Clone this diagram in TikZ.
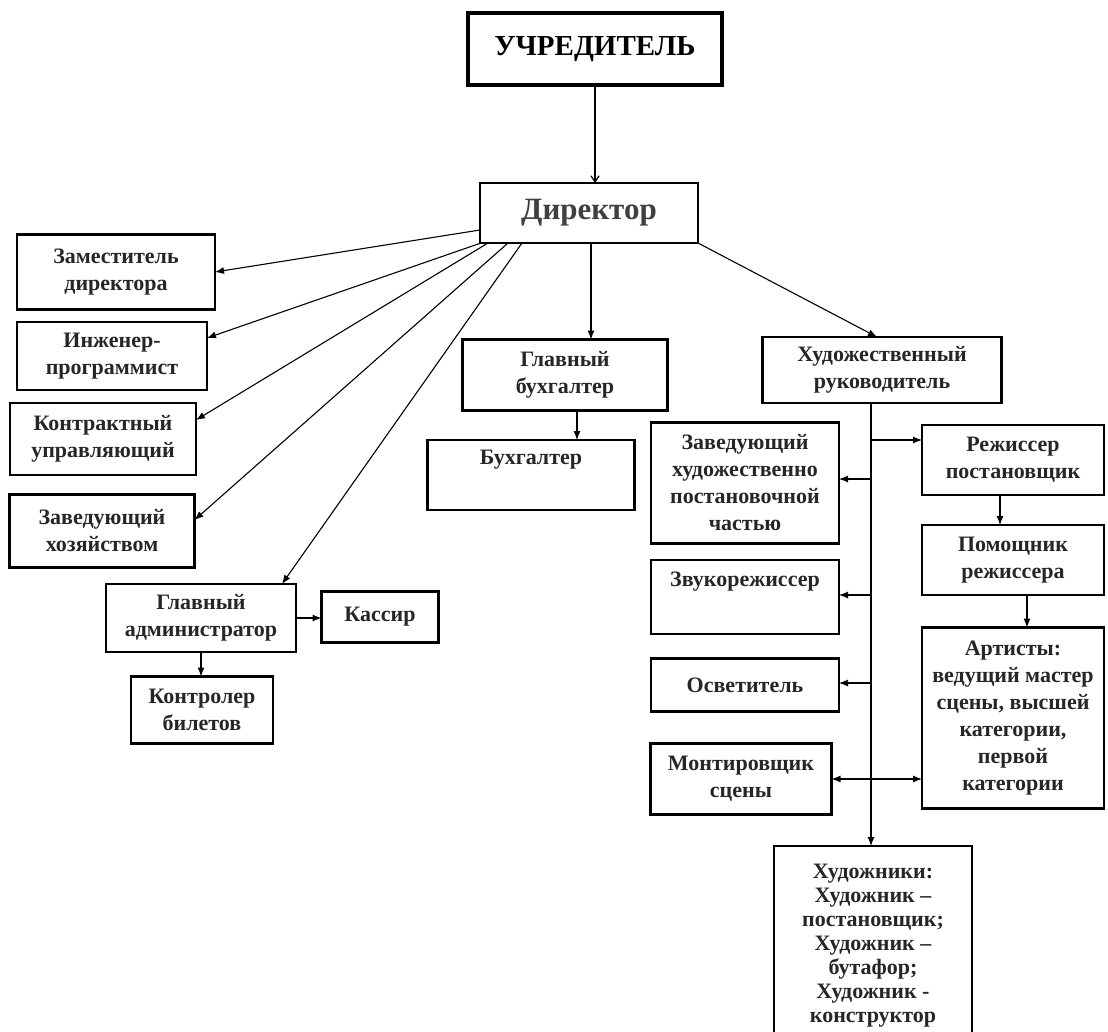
\documentclass[tikz,border=0pt]{standalone}
\usepackage{fontspec}
\setmainfont{Liberation Serif}
\usetikzlibrary{arrows.meta}

\begin{document}
\begin{tikzpicture}[x=1pt,y=-1pt]
        % Define styles
        \tikzset{
            unit/.style={rectangle, draw, line width=2.8pt, inner sep=0pt, outer sep=0pt, align=center, text=black!85, font=\fontsize{22}{27}\selectfont\bfseries},
            founder/.style={unit, line width=4.5pt, text=black, font=\fontsize{29}{34}\selectfont\bfseries},
            head/.style={unit, font=\fontsize{31}{36}\selectfont\bfseries, text=black!75},
            arrow/.style={-{Latex[length=9pt,width=7pt]}, line width=1.1pt},
            barb/.style={-{Straight Barb[length=6pt,width=8pt]}, line width=1.3pt},
            both/.style={{Latex[length=9pt,width=7pt]}-{Latex[length=9pt,width=7pt]}, line width=1.1pt}
        }
        \useasboundingbox (0,0) rectangle (1108,1031);
        \clip (0,0) rectangle (1108,1031);

        % Nodes
        \node[founder, minimum width=254pt, minimum height=72pt] (founder_node) at (595,49) {УЧРЕДИТЕЛЬ};
        \node[head, minimum width=218pt, minimum height=60pt] (director_node) at (589,213) {Директор};

        \node[unit, minimum width=198pt, minimum height=75pt] (deputy_node) at (116,272) {Заместитель\\директора};
        \node[unit, minimum width=190pt, minimum height=68pt] (engineer_node) at (112,356) {Инженер-\\программист};
        \node[unit, minimum width=186pt, minimum height=72pt] (contract_node) at (103,439) {Контрактный\\управляющий};
        \node[unit, minimum width=185pt, minimum height=73pt] (house_node) at (102,531) {Заведующий\\хозяйством};
        \node[unit, minimum width=190pt, minimum height=68pt] (admin_node) at (201,618) {Главный\\администратор};
        \node[unit, minimum width=117pt, minimum height=51pt] (cashier_node) at (380,617) {Кассир};
        \node[unit, minimum width=142pt, minimum height=67pt] (ticket_node) at (202,710) {Контролер\\билетов};

        \node[unit, minimum width=205pt, minimum height=71pt] (chief_acc_node) at (565,375) {Главный\\бухгалтер};
        \node[unit, minimum width=207pt, minimum height=70pt] (acc_node) at (531,475) {Бухгалтер\\ \strut};

        \node[unit, minimum width=239pt, minimum height=66pt] (art_dir_node) at (882,370) {Художественный\\руководитель};
        \node[unit, minimum width=188pt, minimum height=121pt] (stage_head_node) at (745,483) {Заведующий\\художественно\\постановочной\\частью};
        \node[unit, minimum width=188pt, minimum height=74pt] (sound_node) at (745,597) {Звукорежиссер\\ \strut};
        \node[unit, minimum width=188pt, minimum height=53pt] (light_node) at (745,685) {Осветитель};
        \node[unit, minimum width=181pt, minimum height=71pt] (mounter_node) at (741,779) {Монтировщик\\сцены};

        \node[unit, minimum width=182pt, minimum height=70pt] (producer_node) at (1013,460) {Режиссер\\постановщик};
        \node[unit, minimum width=182pt, minimum height=70pt] (assistant_node) at (1013,560) {Помощник\\режиссера};
        \node[unit, minimum width=182pt, minimum height=181pt] (actors_node) at (1013,718) {Артисты:\\ведущий мастер\\сцены, высшей\\категории,\\первой\\категории};
        \node[unit, minimum width=198pt, minimum height=200pt, anchor=north, font=\fontsize{22}{24}\selectfont\bfseries] (painters_node) at (873,846) {Художники:\\Художник –\\постановщик;\\Художник –\\бутафор;\\Художник -\\конструктор};

        % Branch points
        \coordinate (dir_left) at (480,230);
        \coordinate (dir_a) at (481,243);
        \coordinate (dir_b) at (488,243);
        \coordinate (dir_c) at (508,243);
        \coordinate (dir_d) at (522,243);
        \coordinate (trunk_top) at (871,403);
        \coordinate (trunk_1) at (871,440);
        \coordinate (trunk_2) at (871,479);
        \coordinate (trunk_3) at (871,595);
        \coordinate (trunk_4) at (871,683);

        % Arrows
        \draw[barb] (founder_node.south) -- (founder_node.south |- director_node.north);
        \draw[arrow] (dir_left) -- (deputy_node.east);
        \draw[arrow] (dir_a) -- ([yshift=18pt]engineer_node.east);
        \draw[arrow] (dir_b) -- ([yshift=19pt]contract_node.east);
        \draw[arrow] (dir_c) -- ([yshift=11pt]house_node.east);
        \draw[arrow] (dir_d) -- ([xshift=81pt]admin_node.north);
        \draw[arrow] (admin_node.east) -- (cashier_node.west |- admin_node.east);
        \draw[arrow] (admin_node.south) -- (admin_node.south |- ticket_node.north);
        \draw[arrow] ([xshift=2pt]director_node.south) -- ([xshift=2pt]director_node.south |- chief_acc_node.north);
        \draw[arrow] ([xshift=12pt]chief_acc_node.south) -- ([xshift=12pt]chief_acc_node.south |- acc_node.north);
        \draw[arrow] (director_node.south east) -- ([xshift=-5pt]art_dir_node.north);

        \draw[arrow] (trunk_top) -- (trunk_top |- painters_node.north);
        \draw[arrow] (trunk_1) -- (producer_node.west |- trunk_1);
        \draw[arrow] (trunk_2) -- (stage_head_node.east |- trunk_2);
        \draw[arrow] (trunk_3) -- (sound_node.east |- trunk_3);
        \draw[arrow] (trunk_4) -- (light_node.east |- trunk_4);
        \draw[both] (mounter_node.east) -- (actors_node.west |- mounter_node.east);
        \draw[arrow] ([xshift=-13pt]producer_node.south) -- ([xshift=-13pt]assistant_node.north);
        \draw[arrow] ([xshift=14pt]assistant_node.south) -- ([xshift=14pt]actors_node.north);
\end{tikzpicture}
\end{document}
